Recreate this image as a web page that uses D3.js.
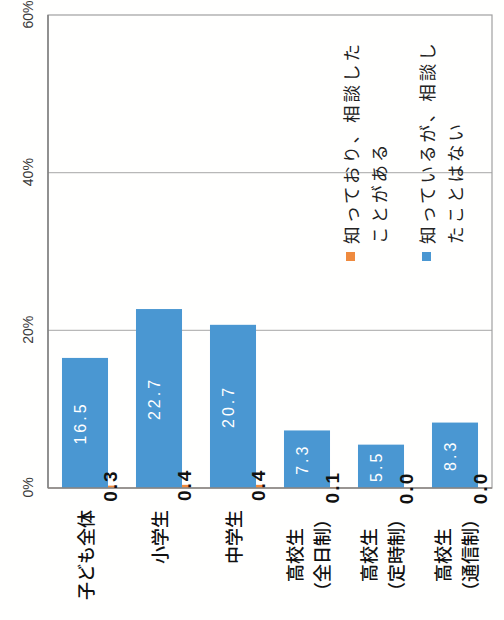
<!DOCTYPE html>
<html lang="ja">
<head>
<meta charset="utf-8">
<script src="https://cdn.jsdelivr.net/npm/d3@7"></script>
<style>
  html, body { margin: 0; padding: 0; background: #ffffff; }
  svg { display: block; }
</style>
</head>
<body>
<script>
// Categories (top to bottom in the reading frame)
const categories = [
  ["子ども全体"],
  ["小学生"],
  ["中学生"],
  ["高校生", "（全日制）"],
  ["高校生", "（定時制）"],
  ["高校生", "（通信制）"]
];
// Series: knew of it and consulted / knew of it but never consulted (%)
const consulted = [0.3, 0.4, 0.4, 0.1, 0.0, 0.0];
const notConsulted = [16.5, 22.7, 20.7, 7.3, 5.5, 8.3];
const seriesNames = [
  ["知っており、相談した", "ことがある"],
  ["知っているが、相談し", "たことはない"]
];
const seriesColors = ["#ef8a3e", "#4a97d2"];
const tickValues = [0, 20, 40, 60];

const W = 504, H = 620;
const svg = d3.select("body").append("svg").attr("width", W).attr("height", H);
svg.append("rect").attr("width", W).attr("height", H).attr("fill", "#fffffe");

// The chart is laid out as a horizontal bar chart and turned a quarter turn,
// so it reads from bottom to top.
const g = svg.append("g").attr("transform", `translate(0,${H}) rotate(-90)`);

const keys = categories.map(c => c.join(""));
const x = d3.scaleLinear().domain([0, 60]).range([132, 605]);
const y = d3.scaleBand().domain(keys).range([48, 492]).paddingInner(0.378).paddingOuter(0.189);
const bw = y.bandwidth();
const fmt = d3.format(".1f");

// gridlines
g.selectAll("line.grid").data(tickValues.filter(t => t > 0 && t < 60)).join("line")
  .attr("x1", d => x(d)).attr("x2", d => x(d))
  .attr("y1", y.range()[0]).attr("y2", y.range()[1])
  .attr("stroke", "#b8b8b8").attr("stroke-width", 1.2);

// plot frame
g.append("rect")
  .attr("x", x(0)).attr("y", y.range()[0])
  .attr("width", x(60) - x(0)).attr("height", y.range()[1] - y.range()[0])
  .attr("fill", "none").attr("stroke", "#a0a0a0").attr("stroke-width", 1.2);

// value axis along the top edge of the frame
g.append("line")
  .attr("x1", x(0)).attr("x2", x(60))
  .attr("y1", y.range()[0]).attr("y2", y.range()[0])
  .attr("stroke", "#7a7a7a").attr("stroke-width", 1.4);

const axis = d3.axisTop(x).tickValues(tickValues).tickFormat(d => d + "%").tickSize(0).tickPadding(0);
const ax = g.append("g").attr("transform", "translate(0,33)").call(axis);
ax.select(".domain").remove();
ax.selectAll("text")
  .attr("dy", 0).attr("y", 0)
  .attr("font-family", "'Liberation Sans', Arial, sans-serif")
  .attr("font-size", 14).attr("fill", "#3a3a3a");

// blue bars
g.selectAll("rect.nc").data(notConsulted).join("rect")
  .attr("x", x(0)).attr("y", (d, i) => y(keys[i]))
  .attr("width", d => x(d) - x(0)).attr("height", bw)
  .attr("fill", seriesColors[1]);

// orange bars
g.selectAll("rect.c").data(consulted).join("rect")
  .attr("x", x(0)).attr("y", (d, i) => y(keys[i]) + bw)
  .attr("width", d => x(d) - x(0)).attr("height", 8)
  .attr("fill", seriesColors[0]);

// category axis line at 0%
g.append("line")
  .attr("x1", x(0)).attr("x2", x(0))
  .attr("y1", y.range()[0]).attr("y2", y.range()[1])
  .attr("stroke", "#8a8580").attr("stroke-width", 1.4);

// blue value labels
g.selectAll("text.nc").data(notConsulted).join("text")
  .attr("x", d => (x(0) + x(d)) / 2)
  .attr("y", (d, i) => y(keys[i]) + bw / 2 - 5)
  .attr("text-anchor", "middle").attr("dominant-baseline", "central")
  .attr("font-family", "'Liberation Sans', Arial, sans-serif")
  .attr("font-size", 16).attr("letter-spacing", 3).attr("fill", "#ffffff")
  .text(d => fmt(d));

// orange value labels
g.selectAll("text.c").data(consulted).join("text")
  .attr("x", d => x(d))
  .attr("y", (d, i) => y(keys[i]) + bw + 2)
  .attr("text-anchor", "middle").attr("dominant-baseline", "central")
  .attr("font-family", "'Liberation Sans', Arial, sans-serif")
  .attr("font-weight", "bold")
  .attr("font-size", 19).attr("letter-spacing", 2).attr("fill", "#111")
  .text(d => fmt(d));

// category labels: lines centred inside a right-aligned block
const catFont = 18, catLine = 27, catEnd = 110;
categories.forEach((lines, i) => {
  const cy = y(keys[i]) + bw / 2;
  const maxLen = d3.max(lines, l => l.length) * catFont;
  const cx = catEnd - maxLen / 2;
  lines.forEach((l, j) => {
    g.append("text")
      .attr("x", cx)
      .attr("y", cy + (j - (lines.length - 1) / 2) * catLine)
      .attr("text-anchor", "middle").attr("dominant-baseline", "central")
      .attr("font-family", "'Noto Sans CJK JP', sans-serif")
      .attr("font-weight", 500)
      .attr("font-size", catFont).attr("fill", "#111")
      .text(l);
  });
});

// legend
const legendV = [350, 426];
seriesNames.forEach((lines, i) => {
  g.append("rect")
    .attr("x", 359).attr("y", legendV[i] - 4)
    .attr("width", 9).attr("height", 9)
    .attr("fill", seriesColors[i]);
  lines.forEach((l, j) => {
    g.append("text")
      .attr("x", 376).attr("y", legendV[i] + j * 28)
      .attr("dominant-baseline", "central")
      .attr("font-family", "'Noto Sans CJK JP', sans-serif")
      .attr("font-size", 17.5).attr("letter-spacing", 3).attr("fill", "#222")
      .text(l);
  });
});
</script>
</body>
</html>
